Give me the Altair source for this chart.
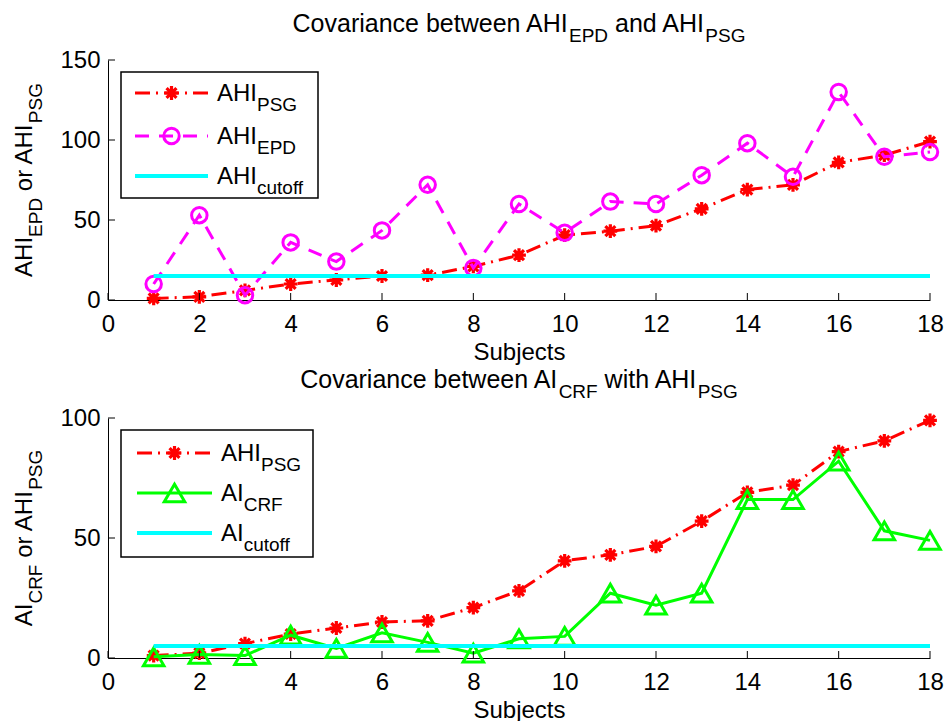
import altair as alt
import pandas as pd

# ---------------- data ----------------
subjects = [1, 2, 3, 4, 5, 6, 7, 8, 9, 10, 11, 12, 13, 14, 15, 16, 17, 18]
ahi_psg = [1, 2, 6, 10, 12.5, 15, 15.5, 21, 28, 40.5, 43, 46.5, 57, 69, 72, 86, 90.5, 99]
ahi_epd = [10, 53, 3, 36, 24, 43.5, 72, 20, 60, 42, 61.5, 60, 78, 98, 77, 130, 89.5, 92.5]
ai_crf = [0.5, 1.5, 1, 9.5, 4, 10.5, 6.5, 2, 8, 9, 27, 22, 27, 66, 66, 82, 53, 49]
ahi_cutoff = 15
ai_cutoff = 5
x_ticks = [0, 2, 4, 6, 8, 10, 12, 14, 16, 18]
top_y_ticks = [0, 50, 100, 150]
bot_y_ticks = [0, 50, 100]

# ---------------- style ----------------
W, H = 822, 240
FONT = "Liberation Sans"
MAIN, SUB, SUB_OFF = 24, 19, 10
RED, MAG, GRN, CYA = "#ff0000", "#ff00ff", "#00ff00", "#00ffff"
ASTER = "M-1,0L1,0M0,-1L0,1M-0.72,-0.72L0.72,0.72M-0.72,0.72L0.72,-0.72"
PSG_DASH = [15, 6, 2, 6]
EPD_DASH = [14, 10]

HELV = {' ': 278, 'A': 667, 'C': 722, 'D': 722, 'E': 667, 'F': 611, 'G': 778,
        'H': 722, 'I': 278, 'P': 667, 'R': 722, 'S': 667, 'a': 556, 'b': 556,
        'c': 500, 'd': 556, 'e': 556, 'f': 278, 'h': 556, 'i': 222, 'n': 556,
        'o': 556, 'r': 333, 't': 278, 'u': 556, 'v': 500, 'w': 722}


def tw(s, size):
    return sum(HELV.get(c, 556) for c in s) * size / 1000.0


one = pd.DataFrame({"k": [0]})


def pieces(parts, main=MAIN, sub=SUB):
    out, off = [], 0.0
    for t, is_sub in parts:
        size = sub if is_sub else main
        lead = len(t) - len(t.lstrip(" "))
        shown = t.lstrip(" ")
        out.append((shown, size, off + tw(" " * lead, size), SUB_OFF if is_sub else 0))
        off += tw(t, size)
    return out, off


def htext(parts, x0, baseline, center=False, main=MAIN, sub=SUB):
    ps, total = pieces(parts, main, sub)
    if center:
        x0 = x0 - total / 2
    layers = []
    for t, size, off, dy in ps:
        layers.append(
            alt.Chart(one).mark_text(text=t, font=FONT, fontSize=size, align="left",
                                     baseline="alphabetic", dy=dy, color="black")
            .encode(x=alt.value(x0 + off), y=alt.value(baseline)))
    return layers


def vtext(parts, xb, cy):
    ps, total = pieces(parts)
    y0 = cy + total / 2
    layers = []
    for t, size, off, dy in ps:
        layers.append(
            alt.Chart(one).mark_text(text=t, font=FONT, fontSize=size, align="left",
                                     baseline="alphabetic", angle=270, dx=off, dy=dy,
                                     color="black")
            .encode(x=alt.value(xb), y=alt.value(y0)))
    return layers


def xenc(field):
    return alt.X(field, type="quantitative",
                 scale=alt.Scale(domain=[0, 18], nice=False, zero=False),
                 axis=alt.Axis(values=x_ticks, title="Subjects", ticks=False,
                               labelPadding=12, titlePadding=4, grid=False,
                               labelFlush=False, format="d"))


def yenc(field, dom, ticks):
    return alt.Y(field, type="quantitative",
                 scale=alt.Scale(domain=dom, nice=False),
                 axis=alt.Axis(values=ticks, title=None, ticks=False,
                               labelPadding=8, grid=False, labelFlush=False,
                               format="d"))


def series(df, field, color, dash, marker, dom, ticks):
    lk = dict(color=color, strokeWidth=3)
    if dash:
        lk["strokeDash"] = dash
    line = alt.Chart(df).mark_line(**lk).encode(x=xenc("subject"), y=yenc(field, dom, ticks))
    pts = alt.Chart(df).mark_point(filled=False, color=color, opacity=1, **marker).encode(
        x=xenc("subject"), y=yenc(field, dom, ticks))
    return [line, pts]


def tick_layers(dom, ticks):
    xt = alt.Chart(pd.DataFrame({"t": x_ticks})).mark_rule(color="black", strokeWidth=1).encode(
        x=xenc("t"), y=alt.value(H), y2=alt.value(H - 7))
    yt = alt.Chart(pd.DataFrame({"t": ticks})).mark_rule(color="black", strokeWidth=1).encode(
        y=yenc("t", dom, ticks), x=alt.value(0), x2=alt.value(7))
    return [xt, yt]


def cutoff_layer(val, dom, ticks):
    d = pd.DataFrame({"a": [subjects[0]], "b": [subjects[-1]], "v": [val]})
    return alt.Chart(d).mark_rule(color=CYA, strokeWidth=4).encode(
        x=xenc("a"), x2="b:Q", y=yenc("v", dom, ticks))


def legend(box, lx1, lx2, tx, rows):
    x1, x2, y1, y2 = box
    layers = [alt.Chart(one).mark_rect(fill="white", stroke="black", strokeWidth=1.5).encode(
        x=alt.value(x1), x2=alt.value(x2), y=alt.value(y1), y2=alt.value(y2))]
    for ry, color, dash, width, marker, parts in rows:
        lk = dict(color=color, strokeWidth=width)
        if dash:
            lk["strokeDash"] = dash
        layers.append(alt.Chart(one).mark_rule(**lk).encode(
            x=alt.value(lx1), x2=alt.value(lx2), y=alt.value(ry)))
        if marker:
            layers.append(alt.Chart(one).mark_point(filled=False, color=color, opacity=1, **marker)
                          .encode(x=alt.value((lx1 + lx2) / 2), y=alt.value(ry)))
        layers += htext(parts, tx, ry + 8)
    return layers


PSG_M = dict(shape=ASTER, size=190, strokeWidth=3.2)
EPD_M = dict(shape="circle", size=240, strokeWidth=3)
CRF_M = dict(shape="triangle-up", size=420, strokeWidth=3)

# ---------------- top panel ----------------
df_top = pd.DataFrame({"subject": subjects, "psg": ahi_psg, "epd": ahi_epd})
tdom = [0, 150]
anchor = alt.Chart(one).mark_rule(opacity=0, strokeWidth=1).encode(
    x=alt.value(-108), x2=alt.value(-108), y=alt.value(-60), y2=alt.value(-60))

top_layers = (
    [anchor]
    + series(df_top, "psg", RED, PSG_DASH, PSG_M, tdom, top_y_ticks)
    + series(df_top, "epd", MAG, EPD_DASH, EPD_M, tdom, top_y_ticks)
    + [cutoff_layer(ahi_cutoff, tdom, top_y_ticks)]
    + tick_layers(tdom, top_y_ticks)
    + legend((13, 210, 12, 138), 27, 100, 109, [
        (33, RED, PSG_DASH, 3, PSG_M, [("AHI", False), ("PSG", True)]),
        (76, MAG, EPD_DASH, 3, EPD_M, [("AHI", False), ("EPD", True)]),
        (116, CYA, None, 4, None, [("AHI", False), ("cutoff", True)]),
    ])
    + htext([("Covariance between AHI", False), ("EPD", True), (" and AHI", False), ("PSG", True)],
            W / 2, -28, center=True, main=25, sub=19)
    + vtext([("AHI", False), ("EPD", True), (" or AHI", False), ("PSG", True)], -76, H / 2)
)
top = alt.layer(*top_layers).properties(width=W, height=H)

# ---------------- bottom panel ----------------
df_bot = pd.DataFrame({"subject": subjects, "psg": ahi_psg, "crf": ai_crf})
bdom = [0, 100]
bot_layers = (
    series(df_bot, "psg", RED, PSG_DASH, PSG_M, bdom, bot_y_ticks)
    + series(df_bot, "crf", GRN, None, CRF_M, bdom, bot_y_ticks)
    + [cutoff_layer(ai_cutoff, bdom, bot_y_ticks)]
    + tick_layers(bdom, bot_y_ticks)
    + legend((13, 205, 12, 139), 29, 104, 113, [
        (35, RED, PSG_DASH, 3, PSG_M, [("AHI", False), ("PSG", True)]),
        (75, GRN, None, 3, CRF_M, [("AI", False), ("CRF", True)]),
        (115, CYA, None, 4, None, [("AI", False), ("cutoff", True)]),
    ])
    + htext([("Covariance between AI", False), ("CRF", True), (" with AHI", False), ("PSG", True)],
            W / 2, -30, center=True, main=25, sub=19)
    + vtext([("AI", False), ("CRF", True), (" or AHI", False), ("PSG", True)], -76, H / 2)
)
bottom = alt.layer(*bot_layers).properties(width=W, height=H)

chart = alt.vconcat(top, bottom, spacing=118, bounds="flush").properties(
    padding=0, background="white"
).configure_view(stroke=None).configure_axis(
    domainColor="black", domainWidth=1, labelFont=FONT, labelFontSize=24,
    labelColor="black", titleFont=FONT, titleFontSize=24, titleFontWeight="normal",
    titleColor="black"
)

chart.save("out.html", embed_options={"renderer": "svg", "actions": False})
